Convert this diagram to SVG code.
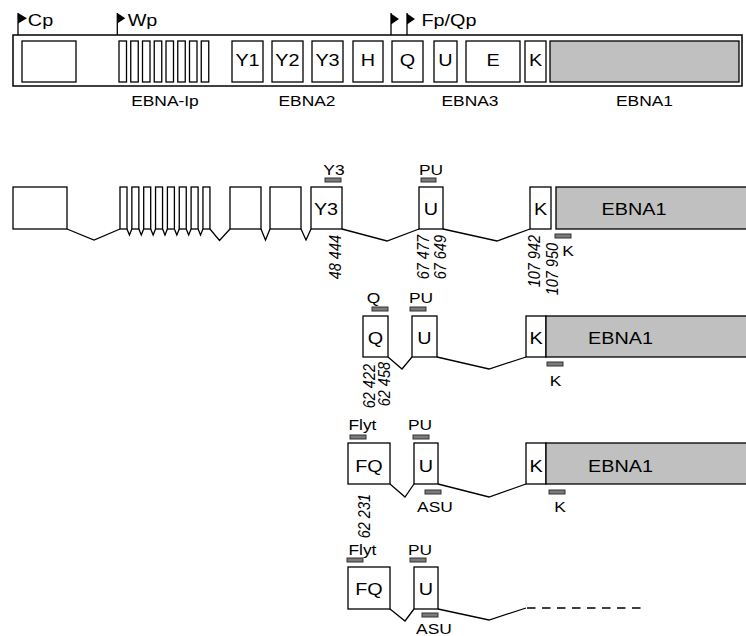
<svg xmlns="http://www.w3.org/2000/svg" width="746" height="636" viewBox="0 0 746 636">
<style>
.ex{fill:#fff;stroke:#000;stroke-width:1.3}
.g{fill:#c0c0c0;stroke:#000;stroke-width:1.3}
.bar{fill:#7b7b7b;stroke:#333;stroke-width:1}
.sp{fill:none;stroke:#000;stroke-width:1.3}
.dash{fill:none;stroke:#000;stroke-width:1.3;stroke-dasharray:8.5 6.5}
.fl{fill:none;stroke:#000;stroke-width:1.3}
.t{font-family:"Liberation Sans",Arial,sans-serif;text-anchor:middle;fill:#000;transform-box:fill-box;transform-origin:center;transform:scaleX(1.2)}
.b{font-size:16.5px}
.s{font-size:14.5px}
.n{font-family:"Liberation Sans",Arial,sans-serif;font-style:italic;font-size:14.5px;text-anchor:end;fill:#000}
</style>
<defs>
<rect id="w1" class="ex" width="7.5" height="41"/>
<rect id="w2" class="ex" width="7" height="42"/>
</defs>

<g id="genome-map">
<rect x="13" y="35" width="729" height="51" fill="#fff" stroke="#000" stroke-width="1.5"/>
<rect class="ex" x="22" y="41" width="54" height="41"/>
<use href="#w1" x="119" y="41"/><use href="#w1" x="130.75" y="41"/><use href="#w1" x="142.5" y="41"/><use href="#w1" x="154.25" y="41"/>
<use href="#w1" x="166" y="41"/><use href="#w1" x="177.75" y="41"/><use href="#w1" x="189.5" y="41"/><use href="#w1" x="201.25" y="41"/>
<rect class="ex" x="232" y="41" width="31" height="41"/>
<rect class="ex" x="272" y="41" width="31" height="41"/>
<rect class="ex" x="312" y="41" width="31" height="41"/>
<rect class="ex" x="353" y="41" width="30" height="41"/>
<rect class="ex" x="392" y="41" width="31" height="41"/>
<rect class="ex" x="434" y="41" width="23" height="41"/>
<rect class="ex" x="466" y="41" width="54" height="41"/>
<rect class="ex" x="525" y="41" width="21" height="41"/>
<rect class="g" x="550" y="41" width="189" height="41"/>
<text class="t b" x="247.5" y="66">Y1</text>
<text class="t b" x="287.5" y="66">Y2</text>
<text class="t b" x="327.5" y="66">Y3</text>
<text class="t b" x="368" y="66">H</text>
<text class="t b" x="407.5" y="66">Q</text>
<text class="t b" x="445.5" y="66">U</text>
<text class="t b" x="493" y="66">E</text>
<text class="t b" x="535.5" y="66">K</text>
<text class="t s" x="165" y="106">EBNA-Ip</text>
<text class="t s" x="307" y="106">EBNA2</text>
<text class="t s" x="470" y="106">EBNA3</text>
<text class="t s" x="644.5" y="106">EBNA1</text>
</g>

<g id="promoters">
<path class="fl" d="M18,35V13M117.3,35V13M391,35V13M407,35V13"/>
<path d="M18,13L27,18.3L18,23.5ZM117.3,13L125.3,18.3L117.3,23.5ZM391,13.5L399,19L391,24.5ZM407,13.5L415,19L407,24.5Z" fill="#000"/>
<text class="t b" x="40.5" y="26">Cp</text>
<text class="t b" x="142.5" y="26">Wp</text>
<text class="t b" x="449" y="26">Fp/Qp</text>
</g>

<g id="transcript-1">
<rect class="ex" x="13" y="187" width="54" height="42"/>
<use href="#w2" x="120" y="187"/><use href="#w2" x="131.85" y="187"/><use href="#w2" x="143.7" y="187"/><use href="#w2" x="155.55" y="187"/>
<use href="#w2" x="167.4" y="187"/><use href="#w2" x="179.25" y="187"/><use href="#w2" x="191.1" y="187"/><use href="#w2" x="202.95" y="187"/>
<rect class="ex" x="230" y="187" width="31" height="42"/>
<rect class="ex" x="270" y="187" width="31" height="42"/>
<g id="t1-Y3"><rect class="ex" x="311" y="187" width="31" height="42"/><text class="t b" x="326" y="215">Y3</text>
<rect class="bar" x="325" y="178" width="16" height="4"/><text class="t s" x="334" y="175">Y3</text></g>
<g id="t1-U"><rect class="ex" x="419" y="187" width="24" height="42"/><text class="t b" x="431" y="215">U</text>
<rect class="bar" x="421" y="178" width="15" height="4"/><text class="t s" x="431" y="175">PU</text></g>
<g id="t1-K"><rect class="ex" x="530" y="187" width="21" height="42"/><text class="t b" x="540.5" y="215">K</text></g>
<g id="t1-EBNA1"><rect class="g" x="556" y="187" width="195" height="42"/><text class="t b" x="634" y="215">EBNA1</text>
<rect class="bar" x="555" y="234" width="16" height="4"/><text class="t s" x="568" y="256">K</text></g>
<text class="n" transform="translate(341,235) scale(1.2,1) rotate(-90)">48 444</text>
<text class="n" transform="translate(429,235) scale(1.2,1) rotate(-90)">67 477</text>
<text class="n" transform="translate(446,235) scale(1.2,1) rotate(-90)">67 649</text>
<text class="n" transform="translate(540,235) scale(1.2,1) rotate(-90)">107 942</text>
<text class="n" transform="translate(558,243) scale(1.2,1) rotate(-90)">107 950</text>
</g>

<g id="transcript-2">
<g id="t2-Q"><rect class="ex" x="363" y="316" width="25" height="41"/><text class="t b" x="375.5" y="344">Q</text>
<rect class="bar" x="372" y="307" width="16" height="4"/><text class="t s" x="373.5" y="303">Q</text></g>
<g id="t2-U"><rect class="ex" x="412" y="316" width="25" height="41"/><text class="t b" x="424.5" y="344">U</text>
<rect class="bar" x="410" y="307" width="16" height="4"/><text class="t s" x="421" y="303">PU</text></g>
<g id="t2-K"><rect class="ex" x="526" y="316" width="20" height="41"/><text class="t b" x="536" y="344">K</text></g>
<g id="t2-EBNA1"><rect class="g" x="546" y="316" width="205" height="41"/><text class="t b" x="620.5" y="344">EBNA1</text>
<rect class="bar" x="547" y="362" width="16" height="4"/><text class="t s" x="555.5" y="386">K</text></g>
<text class="n" transform="translate(375,364) scale(1.2,1) rotate(-90)">62 422</text>
<text class="n" transform="translate(390,362) scale(1.2,1) rotate(-90)">62 458</text>
</g>

<g id="transcript-3">
<g id="t3-FQ"><rect class="ex" x="348" y="443" width="42" height="41"/><text class="t b" x="369" y="472">FQ</text>
<rect class="bar" x="350" y="435" width="16" height="4"/><text class="t s" x="362.5" y="430">Flyt</text></g>
<g id="t3-U"><rect class="ex" x="414" y="443" width="24" height="41"/><text class="t b" x="426" y="472">U</text>
<rect class="bar" x="413" y="435" width="16" height="4"/><text class="t s" x="420" y="430">PU</text>
<rect class="bar" x="425" y="490" width="16" height="4"/><text class="t s" x="435" y="512">ASU</text></g>
<g id="t3-K"><rect class="ex" x="526" y="443" width="20" height="41"/><text class="t b" x="536" y="472">K</text></g>
<g id="t3-EBNA1"><rect class="g" x="546" y="443" width="205" height="41"/><text class="t b" x="620.5" y="472">EBNA1</text>
<rect class="bar" x="549" y="490" width="16" height="4"/><text class="t s" x="560" y="512">K</text></g>
<text class="n" transform="translate(370,494) scale(1.2,1) rotate(-90)">62 231</text>
</g>

<g id="transcript-4">
<g id="t4-FQ"><rect class="ex" x="348" y="567" width="42" height="42"/><text class="t b" x="369" y="595">FQ</text>
<rect class="bar" x="347" y="558" width="16" height="4"/><text class="t s" x="362.5" y="555">Flyt</text></g>
<g id="t4-U"><rect class="ex" x="414" y="567" width="24" height="42"/><text class="t b" x="426" y="595">U</text>
<rect class="bar" x="410" y="558" width="16" height="4"/><text class="t s" x="420" y="555">PU</text>
<rect class="bar" x="422" y="613" width="16" height="4"/><text class="t s" x="434" y="634">ASU</text></g>
</g>

<g id="connectors">
<path class="sp" d="M67,229L94,240L120,229"/>
<path class="sp" d="M127,229L129.43,235L131.85,229M138.85,229L141.28,235L143.7,229M150.7,229L153.13,235L155.55,229M162.55,229L164.98,235L167.4,229M174.4,229L176.83,235L179.25,229M186.25,229L188.68,235L191.1,229M198.1,229L200.53,235L202.95,229"/>
<path class="sp" d="M209.95,229L219.5,240.5L230,229M261,229L265.5,240L270,229M301,229L306,240L311,229M342,229L387,241L419,229M443,229L497,241L530,229"/>
<path class="sp" d="M388,357L402,369L412,357M437,357L489,369L526,357"/>
<path class="sp" d="M390,484L405,497L414,484M438,484L489,497L526,484"/>
<path class="sp" d="M390,609L405,621L414,609M438,609L489,620L526,608"/>
<path class="dash" d="M527,608H641"/>
</g>
</svg>
